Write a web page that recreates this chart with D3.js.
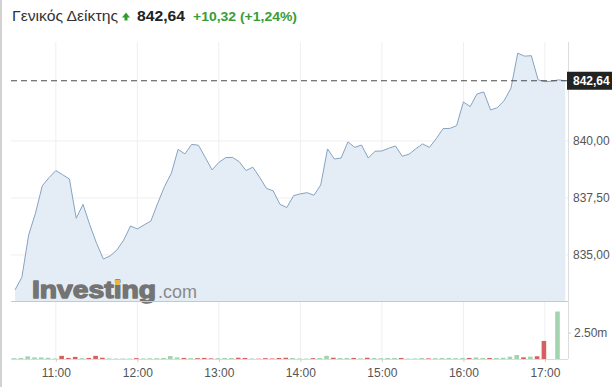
<!DOCTYPE html>
<html>
<head>
<meta charset="utf-8">
<script src="https://cdn.jsdelivr.net/npm/d3@7"></script>
<style>
  body { margin: 0; background: #fff; }
  svg { display: block; font-family: "Liberation Sans", Arial, sans-serif; }
</style>
</head>
<body>
<div class="container"></div>
<script>
const WIDTH = 612;
const HEIGHT = 387;

// plot frame
const LEFT = 11;
const RIGHT = 568;
const PRICE_TOP = 42;
const PRICE_BOTTOM = 301;
const VOL_TOP = 301;
const VOL_BOTTOM = 359;

// 5 minute points, 10:30 .. 17:15
var times = [
  "10:30","10:35","10:40","10:45","10:50","10:55",
  "11:00","11:05","11:10","11:15","11:20","11:25","11:30","11:35","11:40","11:45","11:50","11:55",
  "12:00","12:05","12:10","12:15","12:20","12:25","12:30","12:35","12:40","12:45","12:50","12:55",
  "13:00","13:05","13:10","13:15","13:20","13:25","13:30","13:35","13:40","13:45","13:50","13:55",
  "14:00","14:05","14:10","14:15","14:20","14:25","14:30","14:35","14:40","14:45","14:50","14:55",
  "15:00","15:05","15:10","15:15","15:20","15:25","15:30","15:35","15:40","15:45","15:50","15:55",
  "16:00","16:05","16:10","16:15","16:20","16:25","16:30","16:35","16:40","16:45","16:50","16:55",
  "17:00","17:05","17:10","17:15"
];

var prices = [
  833.47, 834.02, 835.88, 836.83, 838.03, 838.39,
  838.70, 838.52, 838.33, 836.61, 837.22, 836.32, 835.51, 834.82, 834.96, 835.22, 835.66, 836.27,
  836.14, 836.32, 836.49, 837.27, 838.00, 838.58, 839.63, 839.43, 839.85, 839.81, 839.28, 838.73,
  839.06, 839.27, 839.28, 839.09, 838.70, 838.85, 838.41, 837.92, 837.81, 837.22, 837.08, 837.60,
  837.68, 837.73, 837.62, 838.07, 839.65, 839.21, 839.25, 839.96, 839.72, 839.82, 839.25, 839.55,
  839.56, 839.68, 839.78, 839.33, 839.42, 839.66, 839.87, 839.72, 840.10, 840.54, 840.55, 840.67,
  841.71, 841.51, 842.06, 842.15, 841.36, 841.46, 841.77, 842.31, 843.85, 843.72, 843.74, 842.68,
  842.60, 842.62, 842.68, 842.64
];

// volume in millions
var volumes = [
  0.08, 0.10, 0.25, 0.15, 0.15, 0.12,
  0.05, 0.30, 0.10, 0.20, 0.08, 0.10, 0.30, 0.12, 0.06, 0.04, 0.05, 0.04,
  0.08, 0.06, 0.07, 0.08, 0.10, 0.28, 0.15, 0.10, 0.08, 0.08, 0.10, 0.06,
  0.08, 0.10, 0.10, 0.12, 0.10, 0.05, 0.03, 0.08, 0.05, 0.10, 0.12, 0.10,
  0.05, 0.04, 0.08, 0.10, 0.30, 0.12, 0.10, 0.10, 0.10, 0.06, 0.12, 0.10,
  0.08, 0.10, 0.10, 0.10, 0.04, 0.05, 0.10, 0.06, 0.08, 0.10, 0.10, 0.08,
  0.10, 0.10, 0.15, 0.10, 0.10, 0.10, 0.12, 0.22, 0.38, 0.16, 0.22, 0.26,
  1.71, 0.00, 4.50, 0.00
];

var hourTicks = ["11:00","12:00","13:00","14:00","15:00","16:00","17:00"];
var priceTicks = [835, 837.5, 840];
var volumeTicks = [2.5];

var lastPrice = 842.64;
var titleName = "Γενικός Δείκτης";
var titlePrice = "842,64";
var titleChange = "+10,32 (+1,24%)";

var toMinutes = function (s) {
  var p = s.split(":");
  return (+p[0]) * 60 + (+p[1]);
};

var grLocale = d3.formatLocale({decimal: ",", thousands: ".", grouping: [3], currency: ["", "€"]});
var priceFormat = grLocale.format(".2f");

var display = function () {

  var svg = d3.select('.container').append('svg')
    .attr('width', WIDTH)
    .attr('height', HEIGHT);

  var data = times.map(function (t, i) {
    return {t: toMinutes(t), price: prices[i], vol: volumes[i],
            up: i === 0 ? true : prices[i] >= prices[i - 1]};
  });

  var xScale = d3.scaleLinear()
    .domain([627, 1037])
    .range([LEFT, RIGHT]);

  var yScale = d3.scaleLinear()
    .domain([832.98, 844.34])
    .range([PRICE_BOTTOM, PRICE_TOP]);

  var vScale = d3.scaleLinear()
    .domain([0, 5.5])
    .range([VOL_BOTTOM, VOL_TOP]);

  // left page border
  svg.append('rect')
    .attr('x', 0).attr('y', 0)
    .attr('width', 2).attr('height', HEIGHT)
    .attr('fill', '#d2d2d2');

  // grid
  svg.append('g').selectAll('line')
    .data(hourTicks)
    .enter().append('line')
    .attr('x1', function (d) { return xScale(toMinutes(d)); })
    .attr('x2', function (d) { return xScale(toMinutes(d)); })
    .attr('y1', PRICE_TOP)
    .attr('y2', VOL_BOTTOM)
    .attr('stroke', '#efefef');

  svg.append('g').selectAll('line')
    .data(priceTicks)
    .enter().append('line')
    .attr('x1', LEFT)
    .attr('x2', RIGHT)
    .attr('y1', function (d) { return yScale(d); })
    .attr('y2', function (d) { return yScale(d); })
    .attr('stroke', '#efefef');

  // price area + line
  var area = d3.area()
    .x(function (d) { return xScale(d.t); })
    .y0(PRICE_BOTTOM)
    .y1(function (d) { return yScale(d.price); });

  var line = d3.line()
    .x(function (d) { return xScale(d.t); })
    .y(function (d) { return yScale(d.price); });

  svg.append('path')
    .datum(data)
    .attr('d', area)
    .attr('fill', '#e4edf6');

  // watermark
  var logo = svg.append('g');
  var logoText = logo.append('text')
    .attr('x', 32)
    .attr('y', 298)
    .attr('font-size', 23)
    .attr('font-weight', 'bold')
    .attr('textLength', 124)
    .attr('lengthAdjust', 'spacingAndGlyphs')
    .attr('fill', '#747474')
    .attr('stroke', '#747474')
    .attr('stroke-width', 1.3)
    .attr('stroke-linejoin', 'round')
    .text('Investing');
  logo.append('text')
    .attr('x', 158)
    .attr('y', 298)
    .attr('font-size', 19)
    .attr('textLength', 39)
    .attr('lengthAdjust', 'spacingAndGlyphs')
    .attr('fill', '#8a8a8a')
    .text('.com');
  var dot = logoText.node().getExtentOfChar(6);
  logo.append('rect')
    .attr('x', dot.x + dot.width / 2 - 2.5)
    .attr('y', dot.y + 3)
    .attr('width', 5)
    .attr('height', 5)
    .attr('fill', '#f0b341');

  svg.append('path')
    .datum(data)
    .attr('d', line)
    .attr('fill', 'none')
    .attr('stroke', '#86a3c2')
    .attr('stroke-width', 1);

  // panel frame
  svg.append('line')
    .attr('x1', LEFT).attr('x2', RIGHT)
    .attr('y1', PRICE_BOTTOM + 0.5).attr('y2', PRICE_BOTTOM + 0.5)
    .attr('stroke', '#c8c8c8');
  svg.append('line')
    .attr('x1', LEFT).attr('x2', RIGHT)
    .attr('y1', VOL_BOTTOM + 0.5).attr('y2', VOL_BOTTOM + 0.5)
    .attr('stroke', '#dcdcdc');
  svg.append('line')
    .attr('x1', RIGHT + 0.5).attr('x2', RIGHT + 0.5)
    .attr('y1', PRICE_TOP).attr('y2', VOL_BOTTOM)
    .attr('stroke', '#dcdcdc');

  // volume bars
  svg.append('g').selectAll('rect')
    .data(data.filter(function (d) { return d.vol > 0; }))
    .enter().append('rect')
    .attr('x', function (d) { return xScale(d.t) - 3.3; })
    .attr('width', 4.6)
    .attr('y', function (d) { return vScale(d.vol); })
    .attr('height', function (d) { return VOL_BOTTOM - vScale(d.vol); })
    .attr('fill', function (d) { return d.up ? '#a3d4b0' : '#d4615f'; });

  // last price line + label
  svg.append('line')
    .attr('x1', LEFT).attr('x2', RIGHT)
    .attr('y1', yScale(lastPrice)).attr('y2', yScale(lastPrice))
    .attr('stroke', '#4a4a4a')
    .attr('stroke-dasharray', '6,4');

  svg.append('rect')
    .attr('x', RIGHT - 1)
    .attr('y', yScale(lastPrice) - 9)
    .attr('width', WIDTH - RIGHT + 1)
    .attr('height', 18)
    .attr('fill', '#232323');
  svg.append('text')
    .attr('x', RIGHT + 5)
    .attr('y', yScale(lastPrice))
    .attr('dy', '0.35em')
    .attr('font-size', 12)
    .attr('font-weight', 'bold')
    .attr('fill', '#fff')
    .text(priceFormat(lastPrice));

  // axes
  var yAxis = d3.axisRight(yScale)
    .tickValues(priceTicks)
    .tickSize(0)
    .tickPadding(5)
    .tickFormat(priceFormat);

  var vAxis = d3.axisRight(vScale)
    .tickValues(volumeTicks)
    .tickSize(3)
    .tickPadding(3)
    .tickFormat(function (d) { return d3.format('.2f')(d) + 'm'; });

  var xAxis = d3.axisBottom(xScale)
    .tickValues(hourTicks.map(toMinutes))
    .tickSize(3)
    .tickPadding(6)
    .tickFormat(function (d) { return hourTicks[hourTicks.map(toMinutes).indexOf(d)]; });

  var styleAxis = function (g) {
    g.select('.domain').remove();
    g.selectAll('line').attr('stroke', '#cfcfcf');
    g.selectAll('text')
      .attr('fill', '#555')
      .attr('font-size', 12)
      .attr('font-family', '"Liberation Sans", Arial, sans-serif');
  };

  svg.append('g')
    .attr('transform', 'translate(' + RIGHT + ',0)')
    .call(yAxis)
    .call(styleAxis);

  svg.append('g')
    .attr('transform', 'translate(' + RIGHT + ',0)')
    .call(vAxis)
    .call(styleAxis);

  svg.append('g')
    .attr('transform', 'translate(0,' + VOL_BOTTOM + ')')
    .call(xAxis)
    .call(styleAxis);

  // header
  var head = svg.append('g');
  head.append('text')
    .attr('x', 12).attr('y', 21)
    .attr('font-size', 15)
    .attr('textLength', 106)
    .attr('lengthAdjust', 'spacingAndGlyphs')
    .attr('fill', '#333')
    .text(titleName);
  var ax = 122;
  head.append('path')
    .attr('d', 'M' + ax + ',17.5 L' + (ax + 4) + ',12.5 L' + (ax + 8) + ',17.5 L' + (ax + 5.5) + ',17.5 L' + (ax + 5.5) + ',20.5 L' + (ax + 2.5) + ',20.5 L' + (ax + 2.5) + ',17.5 Z')
    .attr('fill', '#2e9e2e');
  head.append('text')
    .attr('x', 137).attr('y', 21)
    .attr('font-size', 15)
    .attr('font-weight', 'bold')
    .attr('textLength', 48)
    .attr('lengthAdjust', 'spacingAndGlyphs')
    .attr('fill', '#222')
    .text(titlePrice);
  head.append('text')
    .attr('x', 193).attr('y', 21)
    .attr('font-size', 13.5)
    .attr('font-weight', 'bold')
    .attr('textLength', 104)
    .attr('lengthAdjust', 'spacingAndGlyphs')
    .attr('fill', '#3a9c35')
    .text(titleChange);
};

window.onload = function () {
  display();
};
</script>
</body>
</html>
